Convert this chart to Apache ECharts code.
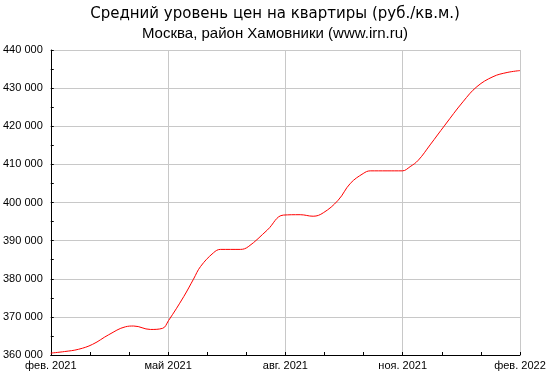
<!DOCTYPE html>
<html>
<head>
<meta charset="utf-8">
<script src="https://cdn.jsdelivr.net/npm/echarts@6/dist/echarts.min.js"></script>
<style>
html,body{margin:0;padding:0;background:#fff;}
#chart{width:550px;height:375px;}
</style>
</head>
<body>
<div id="chart"></div>
<script>
// month index from фев. 2021 (0) to фев. 2022 (12)
var monthPos = [0, 0.35, 0.71, 1.07, 1.48, 1.91, 2.12, 2.55, 2.86, 3.01, 3.4, 3.65, 3.83, 4.16, 4.34, 4.85, 5.05, 5.54, 5.95, 6.38, 6.71, 6.97, 7.35, 7.66, 7.99, 8.17, 8.6, 8.99, 9.19, 9.4, 9.7, 10.08, 10.54, 10.9, 11.31, 11.67, 12];
var prices = [360500, 360900, 361500, 362800, 365300, 367400, 367600, 366700, 367000, 369000, 375300, 379900, 383200, 386800, 387700, 387700, 388400, 392800, 396700, 396800, 396400, 397300, 400600, 405000, 407600, 408300, 408300, 408300, 409400, 411100, 415100, 420300, 426400, 430400, 433000, 434100, 434600];
var xTickLabels = ["фев. 2021", "май 2021", "авг. 2021", "ноя. 2021", "фев. 2022"];
var titleText = "Средний уровень цен на квартиры (руб./кв.м.)";
var subtitleText = "Москва, район Хамовники (www.irn.ru)";

var chart = echarts.init(document.getElementById('chart'));
var data = monthPos.map(function (m, i) { return [m, prices[i]]; });
chart.setOption({
  animation: false,
  title: [{
    text: titleText,
    left: 'center', top: 2,
    textStyle: { fontFamily: 'DejaVu Sans', fontSize: 15, fontWeight: 'normal', color: '#000' }
  }, {
    text: subtitleText,
    left: 'center', top: 21,
    textStyle: { fontFamily: 'Liberation Sans', fontSize: 15, fontWeight: 'normal', color: '#000' }
  }],
  grid: { left: 50, right: 30, top: 50, bottom: 20 },
  xAxis: {
    type: 'value', min: 0, max: 12, interval: 3,
    axisLine: { lineStyle: { color: '#000', width: 1 } },
    axisTick: { inside: true, length: 3, lineStyle: { color: '#000' } },
    minorTick: { show: true, splitNumber: 3, length: 3, lineStyle: { color: '#000' } },
    splitLine: { show: true, lineStyle: { color: '#c8c8c8', width: 1 } },
    axisLabel: {
      fontFamily: 'Liberation Sans', fontSize: 11, color: '#000', margin: 5,
      formatter: function (v) { return xTickLabels[Math.round(v / 3)]; }
    }
  },
  yAxis: {
    type: 'value', min: 360000, max: 440000, interval: 10000,
    axisLine: { show: true, lineStyle: { color: '#000', width: 1 } },
    axisTick: { show: true, inside: true, length: 3, lineStyle: { color: '#000' } },
    minorTick: { show: true, splitNumber: 2, length: 3, lineStyle: { color: '#000' } },
    splitLine: { show: true, lineStyle: { color: '#c8c8c8', width: 1 } },
    axisLabel: {
      fontFamily: 'Liberation Sans', fontSize: 11, color: '#000', margin: 8,
      formatter: function (v) { return String(v).replace(/\B(?=(\d{3})+(?!\d))/g, ' '); }
    }
  },
  series: [{
    type: 'line', data: data, smooth: 0.4, showSymbol: false,
    lineStyle: { color: '#ff0000', width: 1 }
  }]
});
</script>
</body>
</html>
